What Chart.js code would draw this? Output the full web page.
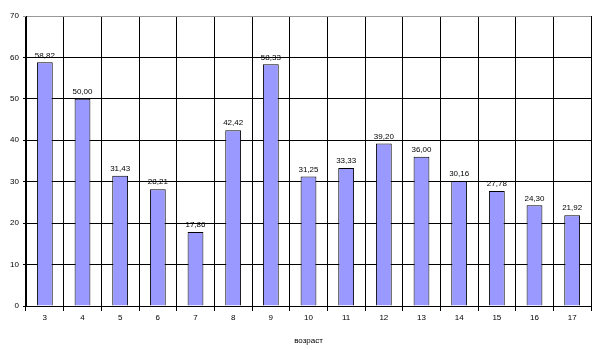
<!DOCTYPE html>
<html>
<head>
<meta charset="utf-8">
<script src="https://cdn.jsdelivr.net/npm/chart.js@4"></script>
<style>
  html, body { margin: 0; padding: 0; background: #fff; }
  #wrap { width: 600px; height: 350px; }
</style>
</head>
<body>
<div id="wrap"><canvas id="myChart"></canvas></div>
<script>
const ages = ['3', '4', '5', '6', '7', '8', '9', '10', '11', '12', '13', '14', '15', '16', '17'];
const percents = [58.82, 50.00, 31.43, 28.21, 17.86, 42.42, 58.33, 31.25, 33.33, 39.20, 36.00, 30.16, 27.78, 24.30, 21.92];
const axisTitle = 'возраст';

// подписи значений над столбиками
const valueLabels = {
    id: 'valueLabels',
    afterDatasetsDraw(chart) {
        const ctx = chart.ctx;
        const meta = chart.getDatasetMeta(0);
        ctx.save();
        ctx.font = '8px "Liberation Sans", Arial, sans-serif';
        ctx.fillStyle = '#000';
        ctx.textAlign = 'center';
        ctx.textBaseline = 'bottom';
        meta.data.forEach((bar, i) => {
            ctx.fillText(percents[i].toFixed(2).replace('.', ','), bar.x, bar.y - 3);
        });
        ctx.restore();
    }
};

document.addEventListener("DOMContentLoaded", function(){
    const ctx = document.getElementById('myChart').getContext('2d');
    Window.myChart = new Chart(ctx, {
        type: 'bar',
        data: {
            labels: ages,
            datasets: [{
                data: percents,
                backgroundColor: '#9999ff',
                borderColor: '#000',
                borderWidth: 1,
                categoryPercentage: 1,
                barPercentage: 0.42
            }]
        },
        options: {
            responsive: true,
            maintainAspectRatio: false,
            animation: false,
            layout: { padding: { top: 16, right: 9, left: 0, bottom: 0 } },
            plugins: {
                legend: { display: false },
                tooltip: { enabled: false }
            },
            scales: {
                x: {
                    offset: true,
                    grid: {
                        offset: true,
                        color: (c) => c.index === ages.length ? '#999' : '#000',
                        lineWidth: 1,
                        tickLength: 5
                    },
                    border: { color: '#000' },
                    ticks: {
                        color: '#000',
                        font: { family: '"Liberation Sans", Arial, sans-serif', size: 8 },
                        padding: 2
                    },
                    title: {
                        display: true,
                        text: axisTitle,
                        color: '#000',
                        font: { family: '"Liberation Sans", Arial, sans-serif', size: 8 },
                        padding: { top: 4 }
                    },
                    afterFit: (s) => { s.height = 44; }
                },
                y: {
                    min: 0,
                    max: 70,
                    ticks: {
                        stepSize: 10,
                        color: '#000',
                        font: { family: '"Liberation Sans", Arial, sans-serif', size: 8 },
                        padding: 4
                    },
                    grid: {
                        color: (c) => c.tick.value === 70 ? '#999' : '#000',
                        lineWidth: 1,
                        tickLength: 3
                    },
                    border: { color: '#000' },
                    afterFit: (s) => { s.width = 26; }
                }
            }
        },
        plugins: [valueLabels]
    });
});
</script>
</body>
</html>
